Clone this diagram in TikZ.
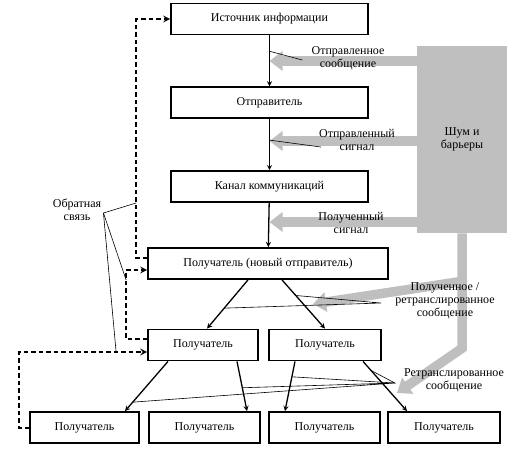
\documentclass[tikz,border=0pt]{standalone}
\usepackage{fontspec}
\setmainfont{Liberation Serif}
\usetikzlibrary{arrows.meta, calc, positioning}

\begin{document}
\begin{tikzpicture}[x=1pt, y=-1pt, >=stealth, semithick,
        box/.style={draw, line width=1.8pt, inner sep=0pt, minimum height=31pt, font=\fontsize{12}{13}\selectfont},
        lbl/.style={align=center, inner sep=0pt, font=\fontsize{12}{13}\selectfont},
        noise/.style={draw=black!25, line width=9.5pt, -{Triangle[width=19pt, length=13pt]}},
        fb/.style={line width=2pt, dash pattern=on 4.5pt off 3pt},
        link/.style={->, line width=1.3pt},
        ptr/.style={line width=0.6pt}]
            \useasboundingbox (0,0) rectangle (528,448);
            % noise block and its grey arrows
            \node[lbl, fill=black!25, minimum width=90pt, minimum height=187pt] (10) at (462,139.5) {Шум и\\барьеры};
            \coordinate (g1) at ([yshift=78.5pt]10.west);
            \coordinate (g2) at ([yshift=-1.5pt]10.west);
            \coordinate (g3) at ([yshift=-82.5pt]10.west);
            \coordinate (g5) at ([yshift=-48pt]10.south);
            \coordinate (t1) at (313,304);
            \coordinate (t2) at (397,393);
            % boxes
            \node[box, minimum width=197pt] (0) at (269.5,19) {Источник информации};
            \node[box, minimum width=197pt, below=51pt of 0] (1) {Отправитель};
            \node[box, minimum width=197pt, below=51pt of 1] (2) {Канал коммуникаций};
            \node[box, minimum width=240pt] (3) at (268,263.5) {Получатель (новый отправитель)};
            \node[box, minimum width=110pt] (4) at (203,345) {Получатель};
            \node[box, minimum width=112pt] (5) at (325,345) {Получатель};
            \node[box, minimum width=109pt] (6) at (84.5,427.5) {Получатель};
            \node[box, minimum width=111pt] (7) at (204.5,427.5) {Получатель};
            \node[box, minimum width=111pt] (8) at (324.5,427.5) {Получатель};
            \node[box, minimum width=112pt] (9) at (444,427.5) {Получатель};
            \draw[noise] (g1) -- (0.south |- g1);
            \draw[noise] (g2) -- (0.south |- g2);
            \draw[noise] (g3) -- (0.south |- g3);
            \draw[noise] (10.south) -- ++(0,115) -- (t2);
            \draw[noise] (g5) -- (t1);
            % main chain
            \draw[link] (0) -- (1) coordinate[pos=0.31] (a1);
            \draw[link] (1) -- (2) coordinate[pos=0.41] (a2);
            \draw[link] (2) -- (3);
            \draw[link] ([xshift=-20pt]3.south) -- ([xshift=4pt]4.north) coordinate[pos=0.58] (b2);
            \draw[link] ([xshift=14pt]3.south) -- (5.north) coordinate[pos=0.32] (b1);
            \draw[link] ([xshift=-35pt]4.south) -- ([xshift=40.5pt]6.north) coordinate[pos=0.82] (d4);
            \draw[link] ([xshift=34pt]4.south) -- ([xshift=42.5pt]7.north) coordinate[pos=0.53] (d3);
            \draw[link] ([xshift=-30pt]5.south) -- ([xshift=-39.5pt]8.north) coordinate[pos=0.31] (d1);
            \draw[link] ([xshift=38pt]5.south) -- ([xshift=-37pt]9.north) coordinate[pos=0.18] (d2);
            % feedback
            \draw[fb, ->] ([yshift=5.5pt]3.west) -- ++(-11,0) coordinate (c1) |- (0.west);
            \draw[fb, ->] ([yshift=6pt]4.west) -- ++(-21,0) coordinate (c2) |- ([yshift=-6.5pt]3.west);
            \draw[fb, ->] (6.west) -- ++(-10,0) |- ([yshift=-7pt]4.west);
            % labels
            \node[lbl] (11) at (348,58.5) {Отправленное\\сообщение};
            \node[lbl] (12) at (357,140) {Отправленный\\сигнал};
            \node[lbl] (13) at (351,223) {Полученный\\сигнал};
            \node[lbl] (14) at (445,301) {Полученное /\\ретранслированное\\сообщение};
            \node[lbl] (15) at (454,380) {Ретранслированное\\сообщение};
            \node[lbl] (16) at (77,210) {Обратная\\связь};
            \draw[ptr] (a1) -- ([shift={(-9pt,-1.5pt)}]11.west);
            \draw[ptr] (a2) -- ([shift={(2pt,-7pt)}]12.west);
            \coordinate (e1) at ([xshift=-14pt, yshift=-2pt]14.west);
            \draw[ptr] (b1) -- (e1) -- (b2);
            \coordinate (e2) at ([xshift=-9pt, yshift=-3pt]15.west);
            \draw[ptr] (d1) -- (e2) -- (d2);
            \draw[ptr] (d3) -- (e2) -- (d4);
            \coordinate (e3) at ([shift={(2pt,-3pt)}]16.east);
            \draw[ptr] (c1 |- 2.south) -- (e3) -- (c2 |- 3.south);
            \draw[ptr] (e3) -- ([xshift=-31pt, yshift=-7pt]4.west);
        \end{tikzpicture}
\end{document}
